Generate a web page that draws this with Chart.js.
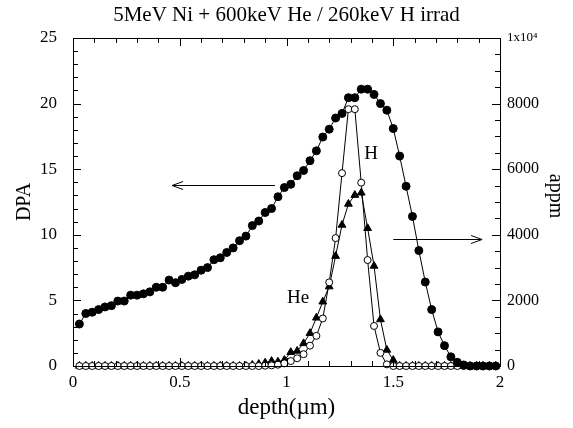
<!DOCTYPE html>
<html>
<head>
<meta charset="utf-8">
<script src="https://cdn.jsdelivr.net/npm/chart.js@4.4.0/dist/chart.umd.min.js"></script>
<style>
  html, body { margin: 0; padding: 0; background: #fff; }
</style>
</head>
<body>
<canvas id="irradChart" width="573" height="428"></canvas>
<script>
// depth grid (um)
const depth = [0.03, 0.06, 0.09, 0.12, 0.15, 0.18, 0.21, 0.24, 0.27, 0.30,
  0.33, 0.36, 0.39, 0.42, 0.45, 0.48, 0.51, 0.54, 0.57, 0.60,
  0.63, 0.66, 0.69, 0.72, 0.75, 0.78, 0.81, 0.84, 0.87, 0.90,
  0.93, 0.96, 0.99, 1.02, 1.05, 1.08, 1.11, 1.14, 1.17, 1.20,
  1.23, 1.26, 1.29, 1.32, 1.35, 1.38, 1.41, 1.44, 1.47, 1.50,
  1.53, 1.56, 1.59, 1.62, 1.65, 1.68, 1.71, 1.74, 1.77, 1.80,
  1.83, 1.86, 1.89, 1.92, 1.95, 1.98];

// damage from 5MeV Ni (left axis)
const dpa = [3.2, 4.0, 4.1, 4.3, 4.5, 4.6, 4.95, 4.95, 5.4, 5.4,
  5.5, 5.65, 6.0, 6.0, 6.55, 6.35, 6.6, 6.85, 6.95, 7.3,
  7.5, 8.1, 8.25, 8.65, 9.0, 9.55, 9.9, 10.7, 11.05, 11.7,
  12.0, 12.9, 13.6, 13.85, 14.5, 14.9, 15.65, 16.4, 17.45, 18.05,
  18.9, 19.25, 20.45, 20.45, 21.1, 21.1, 20.7, 20.0, 19.5, 18.1,
  16.0, 13.7, 11.4, 8.8, 6.4, 4.3, 2.6, 1.55, 0.7, 0.28,
  0.08, 0, 0, 0, 0, 0];

// implanted H (right axis, appm)
const hAppm = [0, 0, 0, 0, 0, 0, 0, 0, 0, 0,
  0, 0, 0, 0, 0, 0, 0, 0, 0, 0,
  0, 0, 0, 0, 0, 0, 0, 0, 0, 10,
  20, 40, 80, 150, 235, 360, 620, 920, 1450, 2550,
  3900, 5880, 7830, 7830, 5590, 3230, 1220, 400, 50, 0,
  0, 0, 0, 0, 0, 0, 0, 0, 0, 0,
  0, 0, 0, 0, 0, 0];

// implanted He (right axis, appm)
const heAppm = [0, 0, 0, 0, 0, 0, 0, 0, 0, 0,
  0, 0, 0, 0, 0, 0, 0, 0, 0, 0,
  0, 0, 0, 0, 0, 0, 0, 30, 60, 100,
  150, 130, 180, 420, 460, 690, 1000, 1470, 1960, 2420,
  3350, 4300, 4940, 5210, 5280, 4200, 3050, 1420, 490, 180,
  0, 0, 0, 0, 0, 0, 0, 0, 0, 0,
  0, 0, 0, 0, 0, 0];

const serif = 'Liberation Serif';

function toPoints(ys) {
  return depth.map((x, i) => ({ x: x, y: ys[i] }));
}

// frame, inward ticks, arrows and labels
const decorations = {
  id: 'decorations',
  afterDatasetsDraw(chart) {
    const ctx = chart.ctx;
    const a = chart.chartArea;
    const xs = chart.scales.x, yl = chart.scales.y, yr = chart.scales.y2;
    ctx.save();
    ctx.strokeStyle = '#000';
    ctx.lineWidth = 1;
    ctx.strokeRect(Math.round(a.left) + 0.5, Math.round(a.top) + 0.5,
      Math.round(a.right - a.left), Math.round(a.bottom - a.top));

    ctx.beginPath();
    for (let i = 0; i <= 20; i++) {
      const px = Math.round(xs.getPixelForValue(i / 10)) + 0.5;
      const len = i % 5 === 0 ? 8 : 5;
      ctx.moveTo(px, a.bottom); ctx.lineTo(px, a.bottom - len);
      ctx.moveTo(px, a.top); ctx.lineTo(px, a.top + len);
    }
    for (let i = 0; i <= 25; i++) {
      const py = Math.round(yl.getPixelForValue(i)) + 0.5;
      const len = i % 5 === 0 ? 8 : 5;
      ctx.moveTo(a.left, py); ctx.lineTo(a.left + len, py);
    }
    for (let i = 0; i <= 20; i++) {
      const py = Math.round(yr.getPixelForValue(i * 500)) + 0.5;
      const len = i % 4 === 0 ? 8 : 5;
      ctx.moveTo(a.right, py); ctx.lineTo(a.right - len, py);
    }
    ctx.stroke();

    // arrows pointing to the axis each curve belongs to
    function arrow(x0, x1, y, yScale) {
      const p0 = xs.getPixelForValue(x0), p1 = xs.getPixelForValue(x1);
      const py = Math.round(yScale.getPixelForValue(y)) + 0.5;
      const dir = p1 > p0 ? -1 : 1;
      ctx.beginPath();
      ctx.moveTo(p0, py); ctx.lineTo(p1, py);
      ctx.moveTo(p1 + dir * 11, py - 4); ctx.lineTo(p1, py); ctx.lineTo(p1 + dir * 11, py + 4);
      ctx.stroke();
    }
    arrow(0.946, 0.464, 13.8, yl);
    arrow(1.5, 1.916, 3870, yr);

    ctx.fillStyle = '#000';
    ctx.font = '19px "' + serif + '"';
    ctx.textAlign = 'center';
    ctx.textBaseline = 'middle';
    ctx.fillText('H', xs.getPixelForValue(1.396), yr.getPixelForValue(6460));
    ctx.fillText('He', xs.getPixelForValue(1.054), yr.getPixelForValue(2070));

    // main title
    ctx.font = '21px "' + serif + '"';
    ctx.fillText('5MeV Ni + 600keV He / 260keV H irrad', (a.left + a.right) / 2, 15);

    // right axis title, reading downward
    ctx.translate(555, 196);
    ctx.rotate(Math.PI / 2);
    ctx.font = '20px "' + serif + '"';
    ctx.fillText('appm', 0, 0);
    ctx.restore();
  }
};

new Chart(document.getElementById('irradChart'), {
  type: 'line',
  data: {
    datasets: [
      {
        label: 'DPA',
        data: toPoints(dpa),
        yAxisID: 'y',
        borderColor: '#000',
        borderWidth: 1,
        pointRadius: 4,
        pointBackgroundColor: '#000',
        pointBorderColor: '#000',
        tension: 0,
        clip: false
      },
      {
        label: 'H',
        data: toPoints(hAppm),
        yAxisID: 'y2',
        borderColor: '#000',
        borderWidth: 1,
        pointRadius: 3.5,
        pointBackgroundColor: '#fff',
        pointBorderColor: '#000',
        pointBorderWidth: 1,
        tension: 0,
        clip: false
      },
      {
        label: 'He',
        data: toPoints(heAppm),
        yAxisID: 'y2',
        borderColor: '#000',
        borderWidth: 1,
        pointStyle: 'triangle',
        pointRadius: 4.5,
        pointBackgroundColor: '#000',
        pointBorderColor: '#000',
        tension: 0,
        clip: false
      }
    ]
  },
  options: {
    responsive: false,
    animation: false,
    layout: { padding: { top: 38, left: 0, right: 0, bottom: 0 } },
    plugins: {
      legend: { display: false },
      tooltip: { enabled: false }
    },
    scales: {
      x: {
        type: 'linear',
        min: 0,
        max: 2,
        grid: { display: false, drawTicks: false },
        border: { display: false },
        ticks: {
          stepSize: 0.5,
          padding: 6,
          color: '#000',
          font: { family: serif, size: 17 },
          callback: v => String(v)
        },
        title: {
          display: true,
          text: 'depth(µm)',
          color: '#000',
          font: { family: serif, size: 23 },
          padding: { top: 0, bottom: 6 }
        },
        afterFit: s => { s.height = 62; }
      },
      y: {
        position: 'left',
        min: 0,
        max: 25,
        grid: { display: false, drawTicks: false },
        border: { display: false },
        ticks: {
          stepSize: 5,
          padding: 16,
          color: '#000',
          font: { family: serif, size: 17 }
        },
        title: {
          display: true,
          text: 'DPA',
          color: '#000',
          font: { family: serif, size: 20 },
          padding: { top: 13, bottom: 0 }
        },
        afterFit: s => { s.width = 73; }
      },
      y2: {
        position: 'right',
        min: 0,
        max: 10000,
        grid: { display: false, drawTicks: false },
        border: { display: false },
        ticks: {
          stepSize: 2000,
          padding: 7,
          color: '#000',
          font: c => ({ family: serif, size: c.tick && c.tick.value === 10000 ? 13 : 16 }),
          callback: v => v === 10000 ? '1x10⁴' : String(v)
        },
        title: { display: false },
        afterFit: s => { s.width = 73; }
      }
    }
  },
  plugins: [decorations]
});
</script>
</body>
</html>
